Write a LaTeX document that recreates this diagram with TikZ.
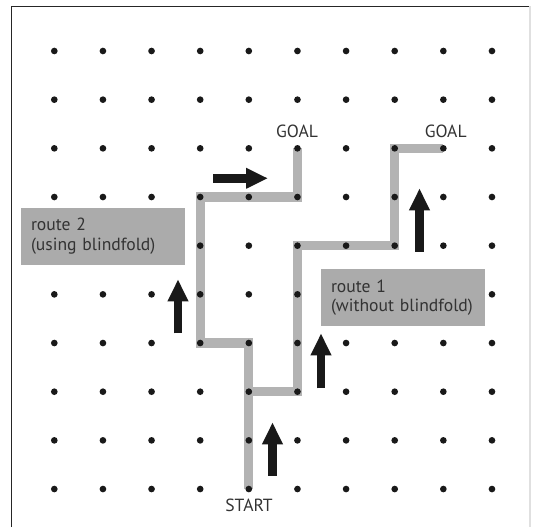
\documentclass[tikz,border=0pt]{standalone}
\usepackage{fontspec}
\setmainfont{PT Sans}
\usetikzlibrary{arrows.meta}
\definecolor{routegray}{HTML}{B3B3B3}
\definecolor{boxgray}{HTML}{ABABAB}
\definecolor{txt}{HTML}{333333}
\begin{document}
\begin{tikzpicture}[x=0.75pt,y=-0.75pt,
  route/.style={draw=routegray,line width=7pt,line join=miter},
  griddot/.style={fill=black!90},
  bigarrow/.style={draw=black!90,line width=6.4pt,-{Triangle[length=16.5pt,width=14.5pt]}},
  label/.style={text=txt,font=\fontsize{13.2}{14.8}\selectfont,inner sep=0pt},
  routebox/.style={fill=boxgray,text=txt,font=\fontsize{13.2}{14.8}\selectfont,
    text width=108pt,align=left,inner xsep=7.7pt,inner ysep=0pt,minimum width=123.45pt}
  ]
\useasboundingbox (0,0) rectangle (534,527);
\fill[white] (0,0) rectangle (534,527);
% frame
\draw[black!85,line width=1.1pt] (11.5,527) -- (11.5,6.5) -- (530,6.5);
\draw[black!12,line width=0.8pt] (530,6.5) -- (530,527);
% grid coordinates
\foreach \i in {0,...,9}{
  \foreach \j in {0,...,9}{
    \coordinate (d-\i-\j) at ({54.3+48.63*\i},{51+48.67*\j});
  }
}
% routes
\draw[route] (d-4-9) -- (d-4-6) -- (d-3-6) -- (d-3-3) -- (d-5-3) -- (d-5-2);
\draw[route] (d-4-7) -- (d-5-7) -- (d-5-4) -- (d-7-4) -- (d-7-2) -- (d-8-2);
% dots
\foreach \i in {0,...,9}{
  \foreach \j in {0,...,9}{
    \fill[griddot] (d-\i-\j) circle (2.5pt);
  }
}
% labels
\node[label] (goalA) at (297,131.7) {GOAL};
\node[label] (goalB) at (445.7,131.7) {GOAL};
\node[label] (start) at (249,505) {START};
% boxes
\node[routebox,minimum height=43pt] (box2) at (103,236.35) {route 2\\(using blindfold)};
\node[routebox,minimum height=42.5pt] (box1) at (403,297.65) {route 1\\(without blindfold)};
% arrows
\coordinate (a1s) at (178,333.3); \coordinate (a1e) at (178,279.3);
\coordinate (a2s) at (213,178.3); \coordinate (a2e) at (268,178.3);
\coordinate (a3s) at (419.5,251.7); \coordinate (a3e) at (419.5,188.3);
\coordinate (a4s) at (321,388.3); \coordinate (a4e) at (321,333.3);
\coordinate (a5s) at (272.5,475.7); \coordinate (a5e) at (272.5,422.3);
\draw[bigarrow] (a1s) -- (a1e);
\draw[bigarrow] (a2s) -- (a2e);
\draw[bigarrow] (a3s) -- (a3e);
\draw[bigarrow] (a4s) -- (a4e);
\draw[bigarrow] (a5s) -- (a5e);
\end{tikzpicture}
\end{document}
